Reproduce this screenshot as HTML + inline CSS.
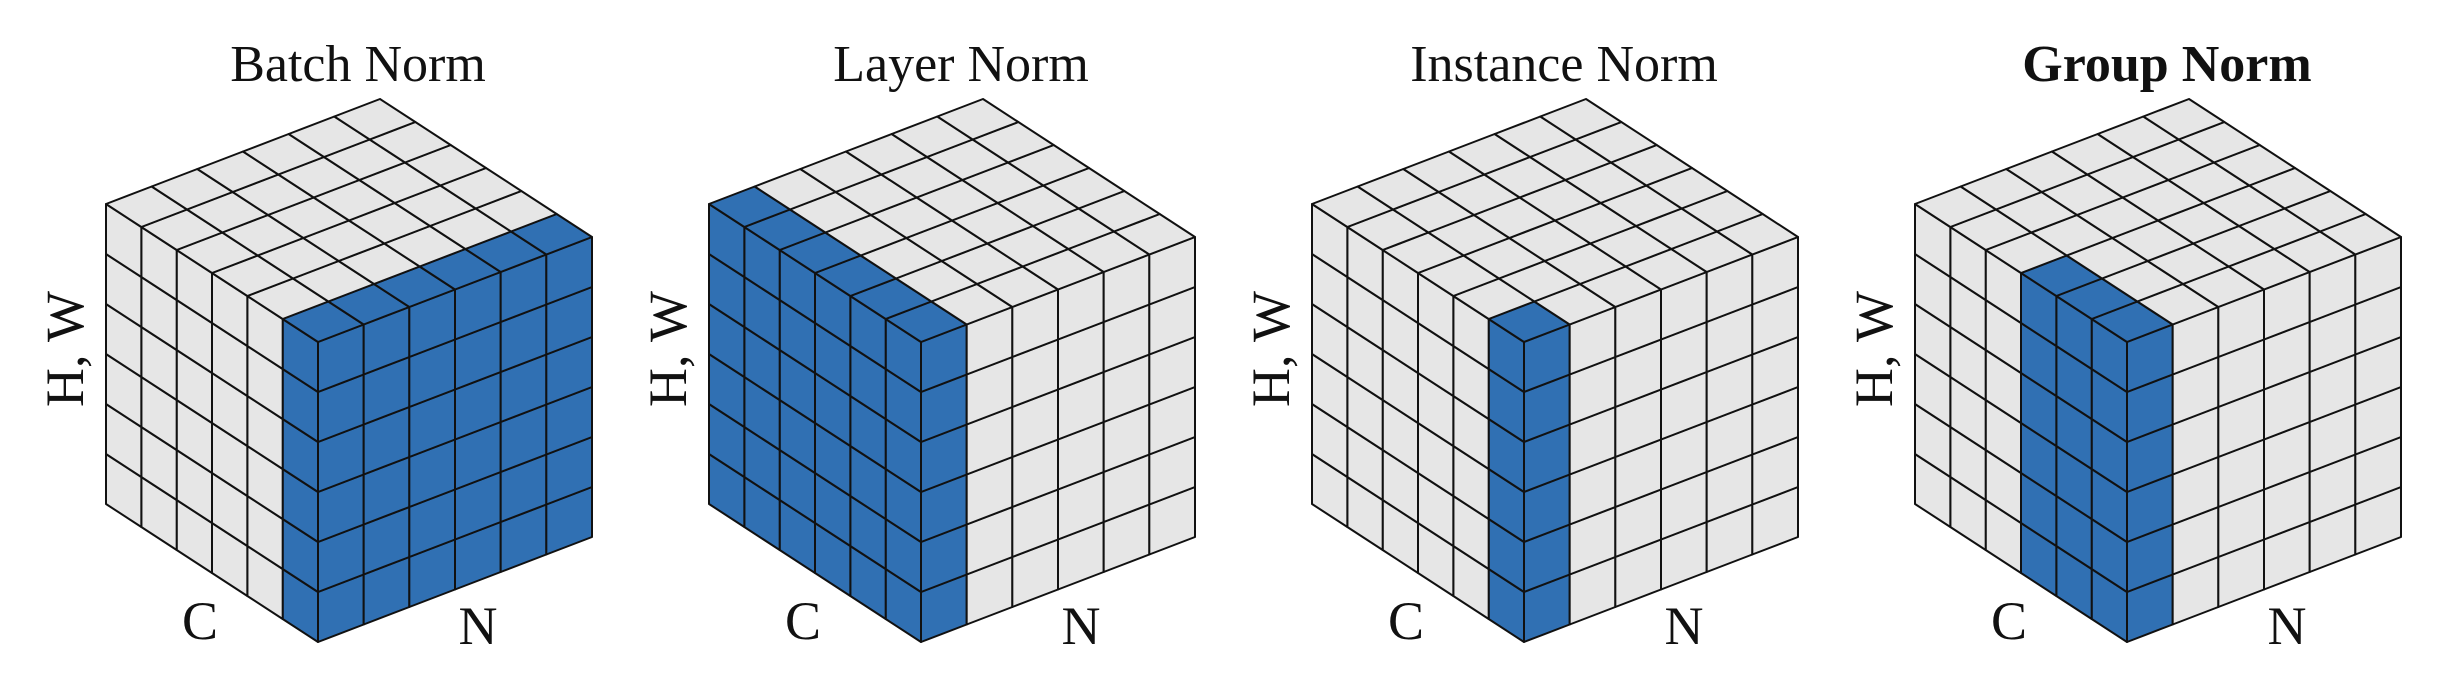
<!DOCTYPE html>
<html><head><meta charset="utf-8">
<style>
html,body{margin:0;padding:0;background:#fff;}
svg{display:block;}
text{font-family:"Liberation Serif",serif;fill:#111;}
</style></head>
<body>
<svg id="s" width="2444" height="684" viewBox="0 0 2444 684" xmlns="http://www.w3.org/2000/svg">
<rect width="2444" height="684" fill="#fff"/>
<g id="cubes"></g>
<text x="358" y="81" font-size="52" text-anchor="middle">Batch Norm</text>
<text x="961" y="81" font-size="52" text-anchor="middle">Layer Norm</text>
<text x="1564" y="81" font-size="52" text-anchor="middle">Instance Norm</text>
<text x="2167" y="81" font-size="52" text-anchor="middle" font-weight="bold">Group Norm</text>
<g font-size="54" text-anchor="middle">
<text transform="translate(83,349) rotate(-90)">H, W</text>
<text x="200" y="639">C</text>
<text x="478" y="644">N</text>
<text transform="translate(686,349) rotate(-90)">H, W</text>
<text x="803" y="639">C</text>
<text x="1081" y="644">N</text>
<text transform="translate(1289,349) rotate(-90)">H, W</text>
<text x="1406" y="639">C</text>
<text x="1684" y="644">N</text>
<text transform="translate(1892,349) rotate(-90)">H, W</text>
<text x="2009" y="639">C</text>
<text x="2287" y="644">N</text>
</g>
</svg>
<script>
(function(){
var g=document.getElementById('cubes');
var preds=[function(n,c){return c==0;},function(n,c){return n==0;},function(n,c){return n==0&&c==0;},function(n,c){return n==0&&c<3;}];
var Nv=[274/6,-105/6],Cv=[-212/6,-138/6],Hh=50;
var BLUE='#3070b3',GRAY='#e6e6e6';
var out='';
for(var k=0;k<4;k++){
 var Fx=318+603*k,Fy=642,p=preds[k];
 function P(n,c,h){return (Fx+n*Nv[0]+c*Cv[0]).toFixed(2)+','+(Fy+n*Nv[1]+c*Cv[1]-h*Hh).toFixed(2);}
 function poly(a,b,c2,d,f){out+='<polygon points="'+a+' '+b+' '+c2+' '+d+'" fill="'+f+'" stroke="#111" stroke-width="2" stroke-linejoin="round"/>';}
 for(var n=0;n<6;n++)for(var h=0;h<6;h++)poly(P(n,0,h),P(n+1,0,h),P(n+1,0,h+1),P(n,0,h+1),p(n,0)?BLUE:GRAY);
 for(var c=0;c<6;c++)for(var h=0;h<6;h++)poly(P(0,c,h),P(0,c+1,h),P(0,c+1,h+1),P(0,c,h+1),p(0,c)?BLUE:GRAY);
 for(var n=0;n<6;n++)for(var c=0;c<6;c++)poly(P(n,c,6),P(n+1,c,6),P(n+1,c+1,6),P(n,c+1,6),p(n,c)?BLUE:GRAY);
}
g.innerHTML=out;
})();
</script>
</body></html>
